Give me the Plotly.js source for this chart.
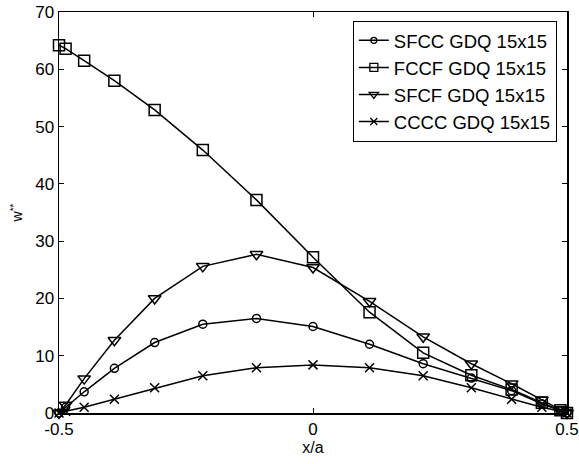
<!DOCTYPE html>
<html><head><meta charset="utf-8">
<script src="https://cdn.plot.ly/plotly-3.0.1.min.js"></script>
<style>html,body{margin:0;padding:0;background:#fff}</style>
</head><body><div id="chart" style="width:579px;height:464px"></div>
<script>
const xPts = [-0.5, -0.487, -0.4505, -0.391, -0.3117, -0.2169, -0.1113, 0, 0.1113, 0.2169, 0.3117, 0.391, 0.4505, 0.487, 0.5];
const seriesNames = ['SFCC GDQ 15x15', 'FCCF GDQ 15x15', 'SFCF GDQ 15x15', 'CCCC GDQ 15x15'];
const sfcc = [0, 1.0, 3.7, 7.8, 12.3, 15.5, 16.5, 15.1, 12.0, 8.6, 6.1, 3.9, 1.6, 0.4, 0];
const fccf = [64.2, 63.6, 61.5, 58.0, 52.9, 45.9, 37.2, 27.2, 17.6, 10.5, 6.6, 4.1, 1.8, 0.5, 0];
const sfcf = [0, 1.4, 6.0, 12.7, 20.0, 25.6, 27.7, 25.4, 19.5, 13.3, 8.6, 5.1, 2.3, 0.6, 0];
const cccc = [0, 0.3, 1.0, 2.4, 4.4, 6.5, 7.9, 8.4, 7.9, 6.5, 4.4, 2.4, 1.0, 0.3, 0];
const xTicks = [-0.5, 0, 0.5];
const xTickText = ['-0.5', '0', '0.5'];
const yTicks = [0, 10, 20, 30, 40, 50, 60, 70];

const symbols = ['circle-open', 'square-open', 'triangle-down-open', 'x-thin-open'];
const sizes = [8, 11, 11, 9];
const legendSizes = [6, 8, 8, 7];
const ys = [sfcc, fccf, sfcf, cccc];
const traces = ys.map((y, i) => ({
  x: xPts, y: y, name: seriesNames[i], type: 'scatter', mode: 'lines+markers', showlegend: false,
  line: {color: '#000', width: 1.5},
  marker: {symbol: symbols[i], size: sizes[i], color: '#000', line: {color: '#000', width: 1.5}},
  cliponaxis: false
}));
const legendTraces = seriesNames.map((n, i) => ({
  x: [null], y: [null], name: n, type: 'scatter', mode: 'lines+markers', showlegend: true,
  line: {color: '#000', width: 1.5},
  marker: {symbol: symbols[i], size: legendSizes[i], color: '#000', line: {color: '#000', width: 1.3}}
}));

const fam = '"Liberation Sans", Arial, sans-serif';
const layout = {
  width: 579, height: 464,
  margin: {l: 59, r: 12, t: 12, b: 51},
  paper_bgcolor: '#fff', plot_bgcolor: '#fff',
  font: {family: fam, size: 17, color: '#000'},
  showlegend: true,
  legend: {x: 0.98, y: 0.978, xanchor: 'right', yanchor: 'top', bordercolor: '#000', borderwidth: 1,
    bgcolor: '#fff', font: {family: fam, size: 18.5, color: '#000'}, tracegroupgap: 0},
  xaxis: {range: [-0.5, 0.5], tickvals: xTicks, ticktext: xTickText, ticks: 'inside', ticklen: 5,
    tickcolor: '#000', showline: true, linecolor: '#000', linewidth: 1.5, mirror: 'ticks', showgrid: false,
    zeroline: false, tickfont: {family: fam, size: 17, color: '#000'},
    title: {text: 'x/a', font: {family: fam, size: 16, color: '#000'}, standoff: 1}},
  yaxis: {range: [0, 70], tickvals: yTicks, ticks: 'inside', ticklen: 5,
    tickcolor: '#000', showline: true, linecolor: '#000', linewidth: 1.5, mirror: 'ticks', showgrid: false,
    zeroline: false, tickfont: {family: fam, size: 17, color: '#000'},
    title: {text: 'w<sup>**</sup>', font: {family: fam, size: 14, color: '#000'}, standoff: 9}}
};
Plotly.newPlot('chart', traces.concat(legendTraces), layout, {displayModeBar: false, staticPlot: true});
</script>
</body></html>
